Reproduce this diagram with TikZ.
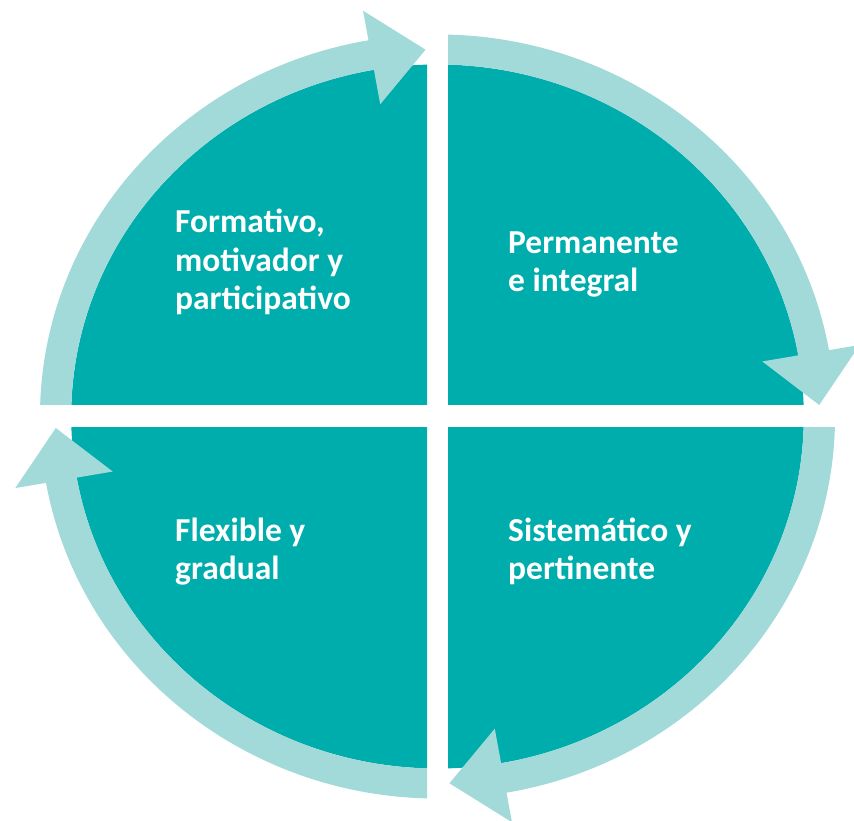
\documentclass[tikz,border=0pt]{standalone}
\usepackage{fontspec}
\setmainfont{Carlito}
\definecolor{darkteal}{HTML}{00ADAD}
\definecolor{lightteal}{HTML}{A2D9D9}
\tikzset{
  lbl/.style={text=white, font=\bfseries\fontsize{33.5}{38.5}\selectfont, align=left, inner sep=0pt, anchor=base west},
  darkfill/.style={fill=darkteal},
  ringfill/.style={fill=lightteal}
}
\begin{document}
\begin{tikzpicture}[x=1pt,y=1pt]
\useasboundingbox (0,0) rectangle (854,821);
\coordinate (O) at (437.5,404.5);
\begin{scope}[shift={(O)}]
  % Top-left
  \begin{scope}
    \clip (-440,11.5) rectangle (-10.5,420);
    \fill[darkfill] (0,0) ellipse [x radius=366.3, y radius=352];
    \fill[ringfill] (185:397.5 and 382) arc[start angle=185, end angle=100, x radius=397.5, y radius=382]
      -- (100:428.7 and 412) -- (91.8:381.9 and 367) -- (100:329.8 and 317)
      -- (100:366.3 and 352) arc[start angle=100, end angle=185, x radius=366.3, y radius=352] -- cycle;
  \end{scope}
  % Top-right
  \begin{scope}
    \clip (10.5,11.5) rectangle (440,420);
    \fill[darkfill] (0,0) ellipse [x radius=366.3, y radius=352];
    \fill[ringfill] (95:397.5 and 382) arc[start angle=95, end angle=10, x radius=397.5, y radius=382]
      -- (10:428.7 and 412) -- (1.8:381.9 and 367) -- (10:329.8 and 317)
      -- (10:366.3 and 352) arc[start angle=10, end angle=95, x radius=366.3, y radius=352] -- cycle;
  \end{scope}
  % Bottom-right
  \begin{scope}
    \clip (10.5,-11.5) rectangle (440,-420);
    \fill[darkfill] (0,0) ellipse [x radius=366.3, y radius=352];
    \fill[ringfill] (5:397.5 and 382) arc[start angle=5, end angle=-80, x radius=397.5, y radius=382]
      -- (-80:428.7 and 412) -- (-88.2:381.9 and 367) -- (-80:329.8 and 317)
      -- (-80:366.3 and 352) arc[start angle=-80, end angle=5, x radius=366.3, y radius=352] -- cycle;
  \end{scope}
  % Bottom-left
  \begin{scope}
    \clip (-10.5,-11.5) rectangle (-440,-420);
    \fill[darkfill] (0,0) ellipse [x radius=366.3, y radius=352];
    \fill[ringfill] (275:397.5 and 382) arc[start angle=275, end angle=190, x radius=397.5, y radius=382]
      -- (190:428.7 and 412) -- (181.8:381.9 and 367) -- (190:329.8 and 317)
      -- (190:366.3 and 352) arc[start angle=190, end angle=275, x radius=366.3, y radius=352] -- cycle;
  \end{scope}
\end{scope}
% labels (anchor = baseline of the last line)
\node[lbl] (q1) at (175,511) {Formativo,\\motivador y\\participativo};
\node[lbl] (q2) at (508,529) {Permanente\\e integral};
\node[lbl] (q3) at (508,241) {Sistemático y\\pertinente};
\node[lbl] (q4) at (175,241) {Flexible y\\gradual};
\end{tikzpicture}
\end{document}
